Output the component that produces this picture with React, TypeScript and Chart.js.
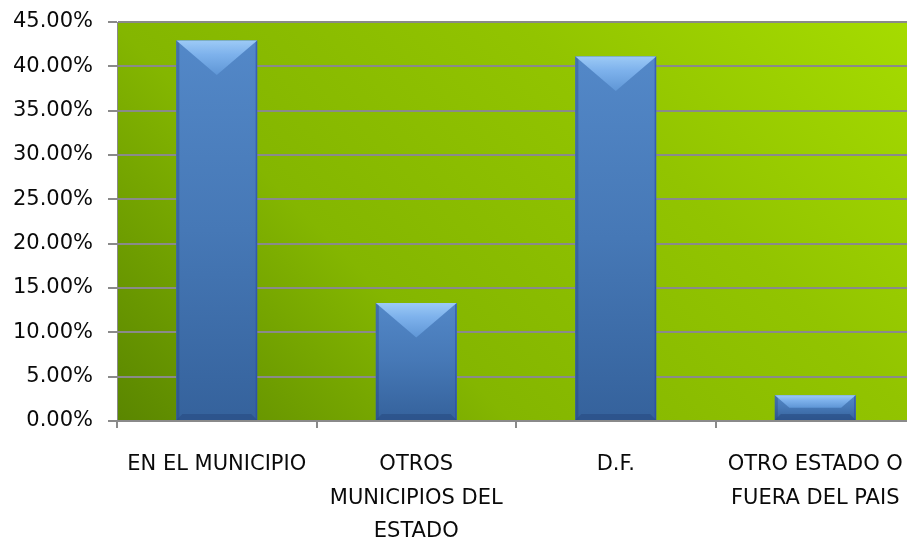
import React, { useEffect, useRef } from "react";
import { Chart, registerables } from "chart.js";

Chart.register(...registerables);

const categories: (string | string[])[] = [
  "EN EL MUNICIPIO",
  ["OTROS", "MUNICIPIOS DEL", "ESTADO"],
  "D.F.",
  ["OTRO ESTADO O", "FUERA DEL PAIS"],
];
const values: number[] = [42.9, 13.3, 41.1, 2.9];
const yMin = 0;
const yMax = 45;
const yStep = 5;

const FONT = "'DejaVu Sans', 'Open Sans', sans-serif";

const backgroundPlugin = {
  id: "plotBg",
  beforeDraw(chart: any) {
    const { ctx, chartArea: a } = chart;
    if (!a) return;
    const W = a.right - a.left;
    const H = a.bottom - a.top;
    const D = (W + H) / 2;
    ctx.save();
    const g = ctx.createLinearGradient(a.left, a.bottom, a.left + D, a.bottom - D);
    g.addColorStop(0, "#5a8600");
    g.addColorStop(0.33, "#84b600");
    g.addColorStop(0.67, "#92c400");
    g.addColorStop(1, "#a6dc00");
    ctx.fillStyle = g;
    ctx.fillRect(a.left, a.top, W, H);
    ctx.restore();
  },
};

const bevelPlugin = {
  id: "bevelBars",
  afterDatasetsDraw(chart: any) {
    const { ctx } = chart;
    const meta = chart.getDatasetMeta(0);
    meta.data.forEach((el: any) => {
      const p = el.getProps(["x", "y", "width", "base"], true);
      const L = p.x - p.width / 2;
      const R = p.x + p.width / 2;
      const T = Math.min(p.y, p.base);
      const B = Math.max(p.y, p.base);
      const w = R - L;
      const h = B - T;
      const hw = w / 2;
      ctx.save();
      const gm = ctx.createLinearGradient(0, T, 0, B);
      gm.addColorStop(0, "#5388c8");
      gm.addColorStop(0.5, "#4678b6");
      gm.addColorStop(1, "#35629c");
      ctx.fillStyle = gm;
      ctx.fillRect(L, T, w, h);
      ctx.fillStyle = "rgba(30,60,110,0.3)";
      ctx.fillRect(L, T, 3, h);
      ctx.fillStyle = "rgba(40,70,170,0.6)";
      ctx.fillRect(R - 1.5, T, 1.5, h);
      const e = Math.min(6, h / 4);
      ctx.beginPath();
      ctx.moveTo(L, B);
      ctx.lineTo(R, B);
      ctx.lineTo(R - e, B - e);
      ctx.lineTo(L + e, B - e);
      ctx.closePath();
      ctx.fillStyle = "rgba(40,75,130,0.6)";
      ctx.fill();
      const k = 0.85;
      const d = Math.min(k * hw, h / 2);
      const inset = Math.min(d / k, hw);
      const gt = ctx.createLinearGradient(0, T, 0, T + d);
      gt.addColorStop(0, "#9ccaf6");
      gt.addColorStop(0.4, "#7eb2ec");
      gt.addColorStop(1, "#5f96d6");
      ctx.beginPath();
      ctx.moveTo(L, T);
      ctx.lineTo(R, T);
      ctx.lineTo(R - inset, T + d);
      ctx.lineTo(L + inset, T + d);
      ctx.closePath();
      ctx.fillStyle = gt;
      ctx.fill();
      ctx.restore();
    });
  },
};

export default function App() {
  const ref = useRef<HTMLCanvasElement | null>(null);
  useEffect(() => {
    if (!ref.current) return;
    const chart = new Chart(ref.current, {
      type: "bar",
      data: {
        labels: categories,
        datasets: [
          {
            data: values,
            backgroundColor: "#4a7cb9",
            borderWidth: 0,
            barPercentage: 0.81,
            categoryPercentage: 0.5,
          },
        ],
      },
      options: {
        responsive: false,
        animation: false,
        devicePixelRatio: 1,
        layout: { padding: { top: 22, left: 0, right: 0, bottom: 0 } },
        plugins: {
          legend: { display: false },
          tooltip: { enabled: false },
          title: { display: false },
        },
        scales: {
          x: {
            offset: true,
            grid: {
              offset: true,
              drawOnChartArea: false,
              drawTicks: true,
              tickLength: 7,
              color: "#8a8a8a",
              lineWidth: 2,
            },
            border: { display: true, color: "#8a8a8a", width: 2 },
            ticks: {
              color: "#0a0a0a",
              padding: 20,
              maxRotation: 0,
              minRotation: 0,
              autoSkip: false,
              font: { family: FONT, size: 21, lineHeight: 1.6 },
            },
            afterFit: (s: any) => {
              s.height = 118;
              s.paddingLeft = 0;
              s.paddingRight = 0;
            },
          },
          y: {
            min: yMin,
            max: yMax,
            grid: {
              color: "#8a8a8a",
              lineWidth: 2,
              drawTicks: true,
              tickLength: 9,
            },
            border: { display: true, color: "#8a8a8a", width: 1 },
            ticks: {
              stepSize: yStep,
              color: "#0a0a0a",
              padding: 15,
              font: { family: FONT, size: 21 },
              callback: (v: any) => Number(v).toFixed(2) + "%",
            },
            afterFit: (s: any) => {
              s.width = 117;
              s.paddingTop = 0;
              s.paddingBottom = 0;
            },
          },
        },
      },
      plugins: [backgroundPlugin, bevelPlugin],
    } as any);
    return () => chart.destroy();
  }, []);
  return (
    <div
      style={{
        position: "fixed",
        left: 0,
        top: 0,
        width: 907,
        height: 539,
        overflow: "hidden",
        background: "#fff",
      }}
    >
      <canvas
        ref={ref}
        width={915}
        height={539}
        style={{ width: 915, height: 539, display: "block" }}
      />
    </div>
  );
}
